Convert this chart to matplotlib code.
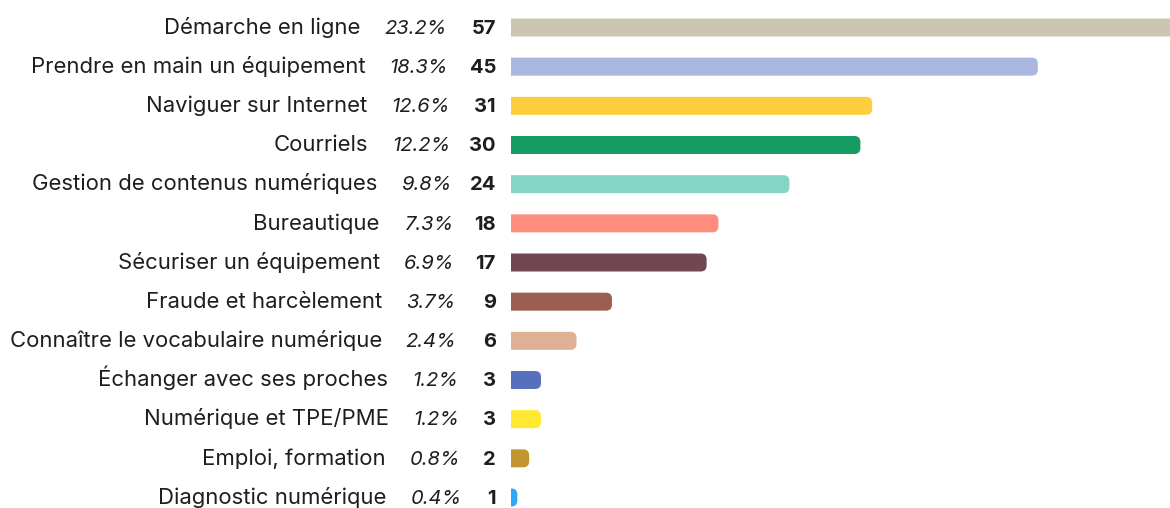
import matplotlib
matplotlib.use("Agg")
import matplotlib.pyplot as plt
import matplotlib.transforms as mtransforms
from matplotlib.patches import FancyBboxPatch

# data
labels = ["Démarche en ligne", "Prendre en main un équipement", "Naviguer sur Internet",
          "Courriels", "Gestion de contenus numériques", "Bureautique",
          "Sécuriser un équipement", "Fraude et harcèlement",
          "Connaître le vocabulaire numérique", "Échanger avec ses proches",
          "Numérique et TPE/PME", "Emploi, formation", "Diagnostic numérique"]
percents = ["23.2%", "18.3%", "12.6%", "12.2%", "9.8%", "7.3%", "6.9%",
            "3.7%", "2.4%", "1.2%", "1.2%", "0.8%", "0.4%"]
counts = [57, 45, 31, 30, 24, 18, 17, 9, 6, 3, 3, 2, 1]
colors = ["#CBC5B1", "#AAB8E0", "#FECE40", "#169B62", "#84D5C6", "#FF8D7E",
          "#714753", "#9A5F50", "#DFB194", "#5770BE", "#FFE930", "#C09630",
          "#2DA8F7"]

W, H = 1170, 508
TEXT = "#1E1E1E"
plt.rcParams['font.family'] = ['Inter', 'DejaVu Sans']

fig = plt.figure(figsize=(W / 100, H / 100), dpi=100)
bar_left = 511
unit = 11.83          # pixels per count
row = 39.17           # pixels per row
ax = fig.add_axes([bar_left / W, 0, 1 - bar_left / W, 1])
x0 = (bar_left - 505.5) / unit
ax.set_xlim(x0, x0 + (W - bar_left) / unit)
ax.set_ylim(len(counts) - 1 + (H - 497.5) / row, -27.5 / row)
ax.axis("off")

bar_h = 18 / row
radius = 6 / unit
aspect = (6 / row) / radius
for i, (v, c) in enumerate(zip(counts, colors)):
    ax.add_patch(FancyBboxPatch((0, i - bar_h / 2), v, bar_h,
                                boxstyle=f"round,pad=0,rounding_size={radius}",
                                mutation_aspect=aspect, fc=c, ec="none"))

trans = mtransforms.blended_transform_factory(fig.transFigure, ax.transData)
shift = mtransforms.ScaledTranslation(0, -6.3 / 100, fig.dpi_scale_trans)
tt = trans + shift
renderer = fig.canvas.get_renderer()
fs = 14.5
for i, (lab, p, n) in enumerate(zip(labels, percents, counts)):
    ax.text(496 / W, i, str(n), transform=tt, ha="right", va="baseline",
            fontsize=fs, fontweight="bold", color=TEXT, clip_on=False)
    # the percent column drifts slightly to the right going down
    pr = 447 + 1.2 * i
    pt = ax.text(pr / W, i, p, transform=tt, ha="right", va="baseline",
                 fontsize=fs, fontstyle="italic", color=TEXT, clip_on=False)
    pl = pt.get_window_extent(renderer).x0
    ax.text((pl - 24) / W, i, lab, transform=tt, ha="right", va="baseline",
            fontsize=15.9, color=TEXT, clip_on=False)

fig.savefig("out.png", dpi=100)
